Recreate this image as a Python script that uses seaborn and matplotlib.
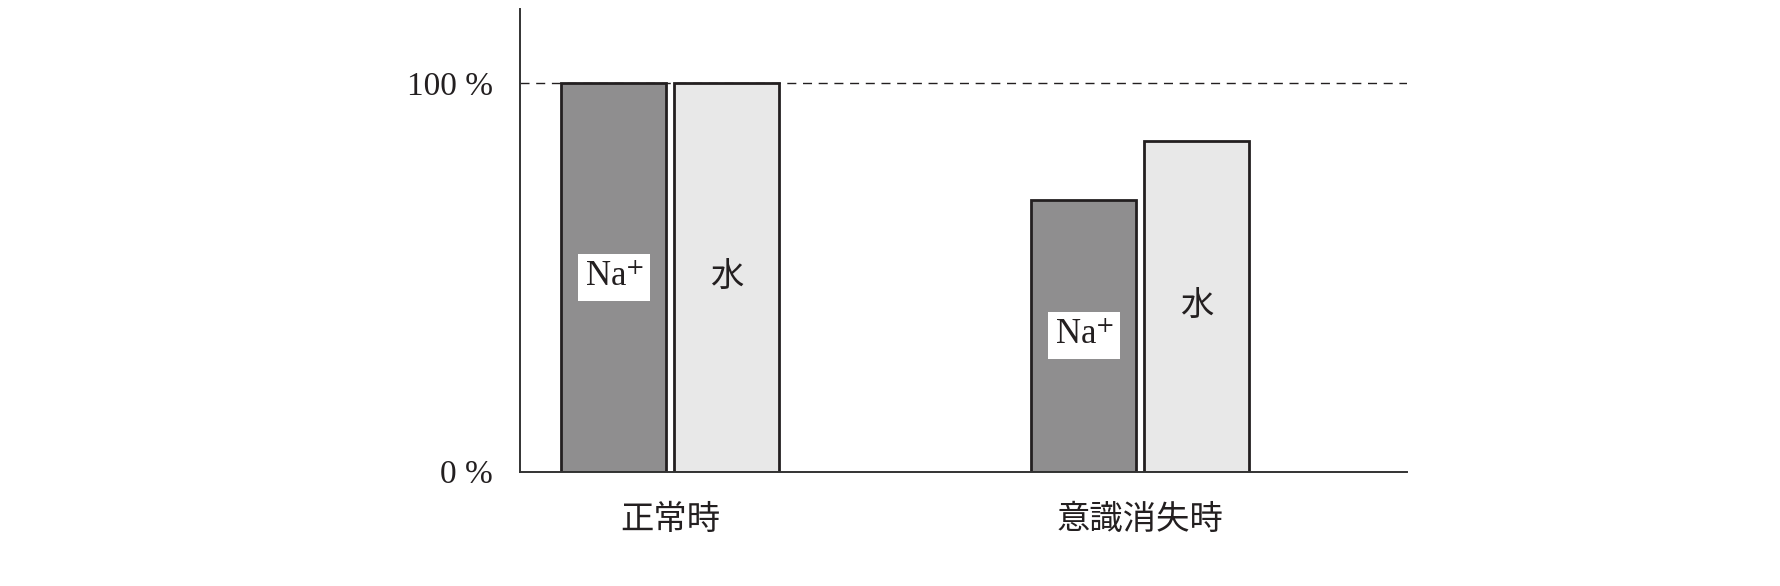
import pandas as pd
import matplotlib
matplotlib.use("Agg")
import matplotlib.pyplot as plt
import matplotlib.colors as mcolors
import seaborn as sns

# values (percent of normal)
categories = ['正常時', '意識消失時']
series = ['Na', '水']
series_labels = [r'Na$^{+}$', '水']
na_values = [100, 70]
water_values = [100, 85]
ytick_values = [0, 100]
ytick_labels = ['0 %', '100 %']

df = pd.DataFrame({
    'state': categories * 2,
    'kind': [series[0]] * 2 + [series[1]] * 2,
    'value': na_values + water_values,
})

sns.set_style('white')
plt.rcParams['font.family'] = ['Liberation Serif', 'Noto Sans CJK JP', 'DejaVu Sans']
plt.rcParams['mathtext.fontset'] = 'stix'

ink = '#231f20'
fills = {'Na': '#8f8e8f', '水': '#e8e8e8'}

fig = plt.figure(figsize=(17.8, 5.86), dpi=100)
ax = fig.add_axes([0.2921, 0.195, 0.4983, 0.7888])

sns.barplot(data=df, x='state', y='value', hue='kind', order=categories,
            hue_order=series, palette=fills, width=0.481, gap=0.07,
            edgecolor=ink, linewidth=2.0, saturation=1, legend=False, ax=ax)

ax.axhline(100, color=ink, lw=1.0, ls=(0, (6.5, 4.8)), zorder=0)

ax.set_xlim(-0.320, 1.567)
ax.set_ylim(0, 118.9)

# labels in the middle of each bar
for patch in ax.patches:
    h = patch.get_height()
    if h <= 0:
        continue
    xc = patch.get_x() + patch.get_width() / 2
    if mcolors.to_hex(patch.get_facecolor()) == fills['Na']:
        ax.text(xc, h / 2, series_labels[0], ha='center', va='center',
                fontsize=25, color=ink, zorder=5,
                bbox=dict(boxstyle='square,pad=0.2', fc='white', ec='none'))
    else:
        ax.text(xc, h / 2, series_labels[1], ha='center', va='center',
                fontsize=24, color=ink, zorder=5,
                family=['Noto Sans CJK JP'])

ax.set_yticks(ytick_values)
ax.set_yticklabels(ytick_labels, fontsize=24, color=ink)
ax.tick_params(axis='y', length=11, width=1.1, color=ink, pad=8.5, direction='out')
ax.yaxis.get_major_ticks()[0].tick1line.set_visible(False)
ax.tick_params(axis='x', length=0, pad=22)
for lbl in ax.get_xticklabels():
    lbl.set_fontsize(24)
    lbl.set_color(ink)
    lbl.set_family(['Noto Sans CJK JP'])

ax.set_xlabel('')
ax.set_ylabel('')
sns.despine(ax=ax)
for side in ['left', 'bottom']:
    ax.spines[side].set_color('#333333')
    ax.spines[side].set_linewidth(1.4)

fig.savefig('out.png', dpi=100, facecolor='white')
